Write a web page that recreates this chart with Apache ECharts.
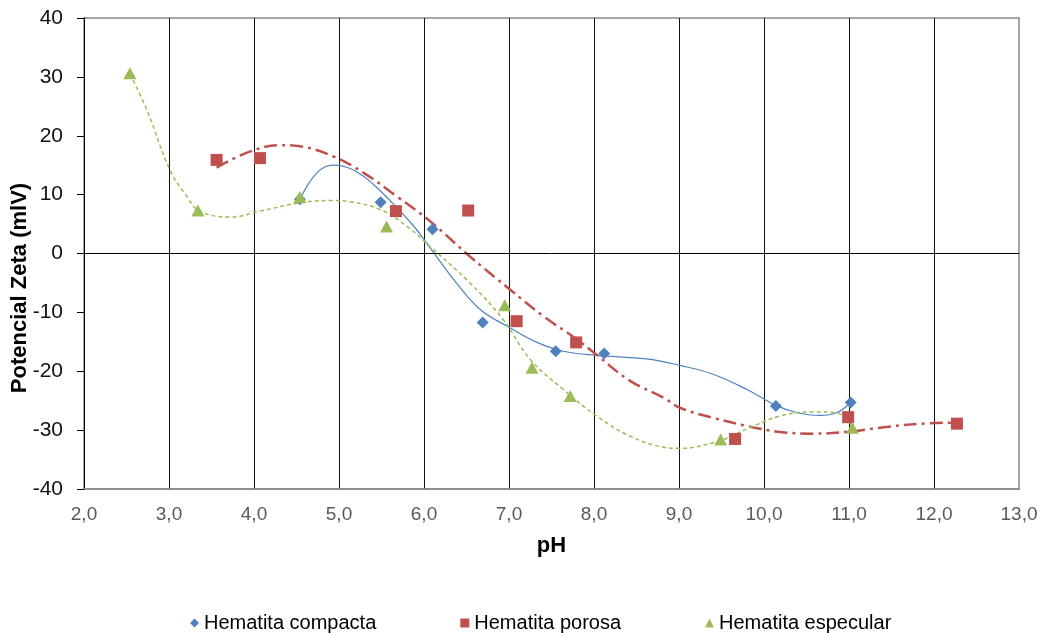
<!DOCTYPE html>
<html>
<head>
<meta charset="utf-8">
<script src="https://cdn.jsdelivr.net/npm/echarts@6/dist/echarts.min.js"></script>
<style>
  html, body { margin: 0; padding: 0; background: #fff; }
  #chart { width: 1043px; height: 633px; }
</style>
</head>
<body>
<div id="chart"></div>
<script>
// medidas (pH, potencial zeta en mV)
var compactaPH   = [4.54, 5.49, 6.10, 6.69, 7.55, 8.12, 10.14, 11.02];
var compactaZeta = [9.2, 8.7, 4.1, -11.7, -16.6, -17.0, -25.9, -25.3];

var porosaPH   = [3.56, 4.07, 5.67, 6.52, 7.09, 7.79, 9.66, 10.99, 12.27];
var porosaZeta = [15.9, 16.2, 7.2, 7.3, -11.5, -15.1, -31.5, -27.8, -28.9];

var especularPH   = [2.54, 3.34, 4.54, 5.56, 6.95, 7.27, 7.72, 9.49, 11.04];
var especularZeta = [30.6, 7.3, 9.6, 4.6, -8.8, -19.4, -24.2, -31.6, -29.6];

// lineas de tendencia
var tendCompactaPH   = [4.54, 4.74, 4.93, 5.10, 5.28, 5.40, 5.60, 5.87, 6.07, 6.38, 6.66, 7.01, 7.33, 7.64, 8.03, 8.62, 9.01, 9.40, 9.80, 10.14, 10.38, 10.66, 10.86, 11.02];
var tendCompactaZeta = [9.2, 13.7, 15.0, 14.6, 13.2, 11.8, 9.0, 4.8, 1.0, -5.0, -9.5, -12.6, -15.1, -16.6, -17.3, -17.9, -19.0, -20.5, -23.1, -25.8, -27.0, -27.5, -27.0, -25.3];

var tendPorosaPH   = [3.56, 3.95, 4.31, 4.54, 4.93, 5.29, 5.68, 6.07, 6.54, 7.01, 7.40, 7.80, 8.03, 8.42, 8.82, 9.01, 9.40, 9.80, 10.19, 10.58, 10.97, 11.36, 11.76, 12.27];
var tendPorosaZeta = [14.6, 17.3, 18.4, 18.2, 16.5, 13.7, 9.7, 5.5, -0.5, -6.1, -10.6, -14.6, -17.2, -21.6, -24.5, -26.2, -27.9, -29.3, -30.3, -30.6, -30.3, -29.6, -29.0, -28.7];

var tendEspecularPH   = [2.54, 2.74, 3.01, 3.21, 3.36, 3.72, 4.07, 4.54, 4.93, 5.13, 5.48, 5.80, 6.07, 6.54, 6.93, 7.25, 7.64, 8.03, 8.42, 8.82, 9.01, 9.48, 9.80, 10.19, 10.58, 10.86, 11.04];
var tendEspecularZeta = [30.5, 24.4, 14.2, 9.7, 7.2, 6.2, 7.2, 8.6, 9.0, 8.8, 7.5, 4.6, 1.2, -5.0, -11.2, -18.0, -23.1, -27.6, -31.0, -32.9, -33.1, -31.8, -29.8, -27.6, -26.9, -27.1, -29.3];

var azul = '#4F81BD', rojo = '#C0504D', verde = '#9BBB59';
var fuente = 'Liberation Sans, Arial, sans-serif';

function pares(xs, ys) {
  return xs.map(function (x, i) { return [x, ys[i]]; });
}

var chart = echarts.init(document.getElementById('chart'));

chart.setOption({
  backgroundColor: '#fff',
  animation: false,
  grid: {
    left: 84, right: 24, top: 18, bottom: 144,
    show: true,
    borderColor: '#888',
    borderWidth: 1.5
  },
  xAxis: {
    type: 'value',
    min: 2, max: 13, interval: 1,
    name: 'pH',
    nameLocation: 'middle',
    nameGap: 46,
    nameTextStyle: { fontFamily: fuente, fontWeight: 'bold', fontSize: 22, color: '#000' },
    axisLine: { onZero: false, lineStyle: { color: '#888', width: 1.5 } },
    axisTick: { show: false },
    axisLabel: {
      margin: 16,
      fontFamily: fuente, fontSize: 19, color: '#595959',
      formatter: function (v) { return v.toFixed(1).replace('.', ','); }
    },
    splitLine: { show: true, showMinLine: false, showMaxLine: false, lineStyle: { color: '#111', width: 1 } }
  },
  yAxis: {
    type: 'value',
    min: -40, max: 40, interval: 10,
    axisLine: { show: true, onZero: false, lineStyle: { color: '#000', width: 1 } },
    axisTick: { show: true, length: 7, lineStyle: { color: '#000' } },
    axisLabel: { margin: 21, fontFamily: fuente, fontSize: 21, color: '#111' },
    splitLine: { show: false }
  },
  graphic: [{
    type: 'text',
    x: 20, y: 288,
    rotation: Math.PI / 2,
    style: {
      text: 'Potencial Zeta (mlV)',
      fontFamily: fuente, fontWeight: 'bold', fontSize: 22,
      fill: '#000',
      align: 'center', verticalAlign: 'middle'
    }
  }],
  legend: {
    left: 190, top: 613,
    padding: 0,
    itemWidth: 9, itemHeight: 9,
    itemGap: 84,
    textStyle: { fontFamily: fuente, fontSize: 20, color: '#000' },
    data: [
      { name: 'Hematita compacta', icon: 'diamond' },
      { name: 'Hematita porosa', icon: 'rect' },
      { name: 'Hematita especular', icon: 'triangle' }
    ]
  },
  series: [
    {
      name: 'tendencia compacta', type: 'line', z: 2,
      data: pares(tendCompactaPH, tendCompactaZeta),
      smooth: 0.4, showSymbol: false, silent: true,
      lineStyle: { color: azul, width: 1.2 },
      markLine: {
        silent: true, symbol: ['none', 'none'], label: { show: false },
        lineStyle: { color: '#000', width: 1, type: 'solid' },
        data: [{ yAxis: 0 }]
      }
    },
    {
      name: 'tendencia porosa', type: 'line', z: 2,
      data: pares(tendPorosaPH, tendPorosaZeta),
      smooth: 0.4, showSymbol: false, silent: true,
      lineStyle: { color: rojo, width: 2.5, type: [13, 5, 3, 5] }
    },
    {
      name: 'tendencia especular', type: 'line', z: 2,
      data: pares(tendEspecularPH, tendEspecularZeta),
      smooth: 0.4, showSymbol: false, silent: true,
      lineStyle: { color: verde, width: 1.5, type: [4, 3] }
    },
    {
      name: 'Hematita compacta', type: 'scatter', z: 3,
      symbol: 'diamond', symbolSize: [12, 12],
      itemStyle: { color: azul, opacity: 1 },
      data: pares(compactaPH, compactaZeta)
    },
    {
      name: 'Hematita porosa', type: 'scatter', z: 3,
      symbol: 'rect', symbolSize: 12,
      itemStyle: { color: rojo, opacity: 1 },
      data: pares(porosaPH, porosaZeta)
    },
    {
      name: 'Hematita especular', type: 'scatter', z: 3,
      symbol: 'triangle', symbolSize: [13, 12],
      itemStyle: { color: verde, opacity: 1 },
      data: pares(especularPH, especularZeta)
    }
  ]
});
</script>
</body>
</html>
